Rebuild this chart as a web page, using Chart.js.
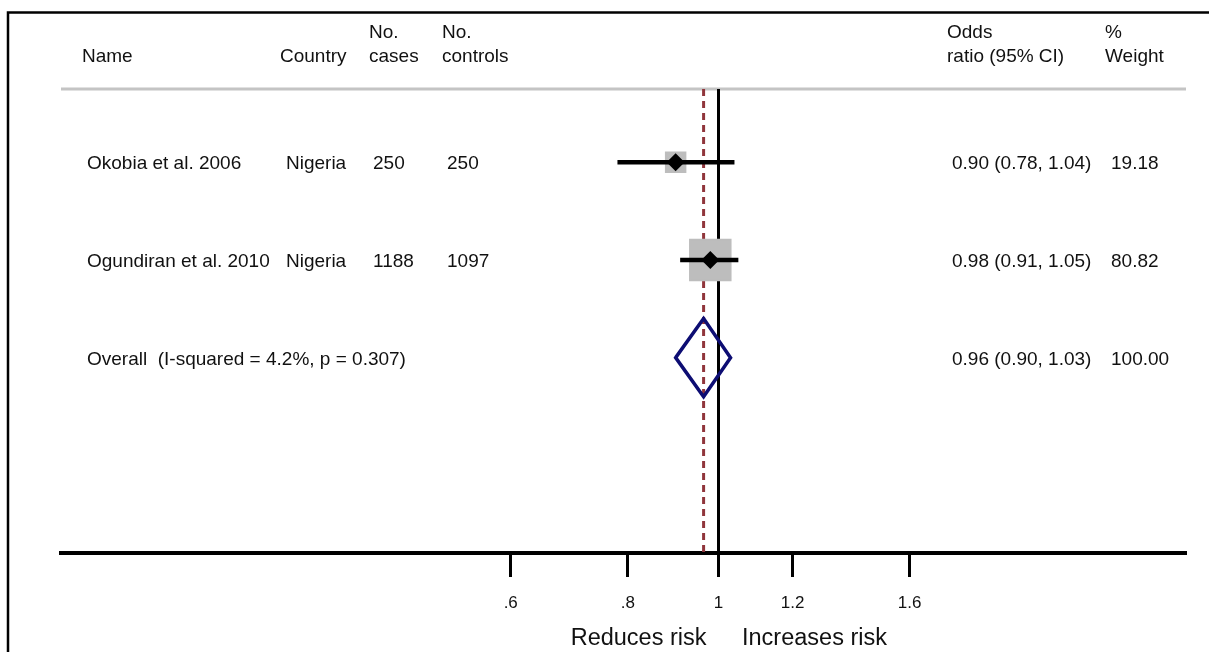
<!DOCTYPE html>
<html><head><meta charset="utf-8">
<script src="https://cdn.jsdelivr.net/npm/chart.js@4.4.1/dist/chart.umd.min.js"></script>
<style>html,body{margin:0;padding:0;background:#fff;overflow:hidden}canvas{display:block}</style>
</head><body>
<canvas id="c" width="1209" height="652"></canvas>
<script>
// ---- data ----
const studyNames = ['Okobia et al. 2006', 'Ogundiran et al. 2010'];
const countries = ['Nigeria', 'Nigeria'];
const noCases = [250, 1188];
const noControls = [250, 1097];
const oddsRatios = [0.90, 0.98];
const ciLower = [0.78, 0.91];
const ciUpper = [1.04, 1.05];
const weights = [19.18, 80.82];
const overallLabel = 'Overall  (I-squared = 4.2%, p = 0.307)';
const overallOR = 0.964;
const overallLower = 0.90;
const overallUpper = 1.03;
const overallWeight = 100.00;
const tickValues = [0.6, 0.8, 1, 1.2, 1.6];
const tickLabels = ['.6', '.8', '1', '1.2', '1.6'];
const nullValue = 1;

// ---- layout constants ----
const FONT = '"Liberation Sans", Arial, Helvetica, sans-serif';
Chart.defaults.font.family = FONT;
Chart.defaults.font.size = 17;
const sepY = 0.25;       // header separator row position
const axisY = 5;         // bottom of plot (x axis)
const overallRow = studyNames.length + 1;
const diamondHalf = 0.4;

const boxRadius = weights.map(w => (4.56 * Math.sqrt(w)) / (2 * Math.SQRT1_2));

const datasets = [];
// reference lines
datasets.push({
  data: [{x: nullValue, y: sepY}, {x: nullValue, y: axisY}],
  showLine: true, borderColor: '#000', borderWidth: 3, pointRadius: 0, order: 6
});
datasets.push({
  data: [{x: overallOR, y: sepY}, {x: overallOR, y: axisY}],
  showLine: true, borderColor: '#90353b', borderWidth: 3, borderDash: [7, 5], pointRadius: 0, order: 6
});
// weight boxes
datasets.push({
  data: oddsRatios.map((v, i) => ({x: v, y: i + 1})),
  showLine: false, pointStyle: 'rect', pointRadius: boxRadius,
  backgroundColor: '#bdbdbd', borderColor: '#bdbdbd', borderWidth: 1.5, order: 4
});
// CI lines
studyNames.forEach((n, i) => {
  datasets.push({
    data: [{x: ciLower[i], y: i + 1}, {x: ciUpper[i], y: i + 1}],
    showLine: true, borderColor: '#000', borderWidth: 4.5, pointRadius: 0, borderCapStyle: 'butt', order: 3
  });
});
// point estimates
datasets.push({
  data: oddsRatios.map((v, i) => ({x: v, y: i + 1})),
  showLine: false, pointStyle: 'rectRot', pointRadius: 9,
  backgroundColor: '#000', borderColor: '#000', borderWidth: 0, order: 2
});
// overall diamond
datasets.push({
  data: [
    {x: overallLower, y: overallRow},
    {x: overallOR, y: overallRow - diamondHalf},
    {x: overallUpper, y: overallRow},
    {x: overallOR, y: overallRow + diamondHalf},
    {x: overallLower, y: overallRow},
    {x: overallOR, y: overallRow - diamondHalf}
  ],
  showLine: true, borderColor: '#0d0d73', borderWidth: 3.5, pointRadius: 0,
  borderJoinStyle: 'miter', fill: false, order: 1
});

const framePlugin = {
  id: 'frame',
  beforeDraw(chart) {
    const ctx = chart.ctx;
    ctx.save();
    ctx.fillStyle = '#fff';
    ctx.fillRect(0, 0, chart.width, chart.height);
    ctx.strokeStyle = '#000';
    ctx.lineWidth = 2.5;
    ctx.beginPath();
    ctx.moveTo(8, chart.height);
    ctx.lineTo(8, 12.5);
    ctx.lineTo(chart.width, 12.5);
    ctx.stroke();
    // header separator
    const ca = chart.chartArea;
    const ys = chart.scales.y.getPixelForValue(sepY);
    ctx.strokeStyle = '#c4c4c4';
    ctx.lineWidth = 3;
    ctx.beginPath();
    ctx.moveTo(ca.left, ys);
    ctx.lineTo(ca.right, ys);
    ctx.stroke();
    ctx.restore();
  },
  afterDraw(chart) {
    const ctx = chart.ctx;
    const ys = chart.scales.y, xs = chart.scales.x;
    ctx.save();
    ctx.fillStyle = '#111';
    ctx.textBaseline = 'alphabetic';
    ctx.textAlign = 'left';
    ctx.font = '19px ' + FONT;
    // header
    const h1 = 38, h2 = 62;
    ctx.fillText('Name', 82, h2);
    ctx.fillText('Country', 280, h2);
    ctx.fillText('No.', 369, h1); ctx.fillText('cases', 369, h2);
    ctx.fillText('No.', 442, h1); ctx.fillText('controls', 442, h2);
    ctx.fillText('Odds', 947, h1); ctx.fillText('ratio (95% CI)', 947, h2);
    ctx.fillText('%', 1105, h1); ctx.fillText('Weight', 1105, h2);
    // rows
    studyNames.forEach((n, i) => {
      const y = ys.getPixelForValue(i + 1) + 7;
      ctx.fillText(n, 87, y);
      ctx.fillText(countries[i], 286, y);
      ctx.fillText(String(noCases[i]), 373, y);
      ctx.fillText(String(noControls[i]), 447, y);
      ctx.fillText(oddsRatios[i].toFixed(2) + ' (' + ciLower[i].toFixed(2) + ', ' + ciUpper[i].toFixed(2) + ')', 952, y);
      ctx.fillText(weights[i].toFixed(2), 1111, y);
    });
    const yo = ys.getPixelForValue(overallRow) + 7;
    ctx.fillText(overallLabel, 87, yo);
    ctx.fillText(overallOR.toFixed(2) + ' (' + overallLower.toFixed(2) + ', ' + overallUpper.toFixed(2) + ')', 952, yo);
    ctx.fillText(overallWeight.toFixed(2), 1111, yo);
    // direction labels
    const x1 = xs.getPixelForValue(nullValue);
    ctx.font = '23.5px ' + FONT;
    ctx.textAlign = 'right';
    ctx.fillText('Reduces risk', x1 - 12, 645);
    ctx.textAlign = 'left';
    ctx.fillText('Increases risk', x1 + 23.5, 645);
    ctx.restore();
  }
};

new Chart(document.getElementById('c'), {
  type: 'scatter',
  data: {datasets},
  options: {
    responsive: false,
    animation: false,
    devicePixelRatio: 1,
    events: [],
    layout: {autoPadding: false, padding: {left: 61, right: 23, top: 15.75, bottom: 0}},
    plugins: {legend: {display: false}, tooltip: {enabled: false}},
    scales: {
      x: {
        type: 'logarithmic',
        position: 'bottom',
        min: 0.1986,
        max: 3.156,
        bounds: 'data',
        afterBuildTicks(scale) { scale.ticks = tickValues.map(v => ({value: v})); },
        afterFit(scale) { scale.height = 99; },
        border: {display: true, color: '#000', width: 4},
        grid: {drawOnChartArea: false, drawTicks: true, tickLength: 24, tickWidth: 3, tickColor: '#000'},
        ticks: {
          autoSkip: false, maxRotation: 0, padding: 16, color: '#111',
          font: {family: FONT, size: 17},
          major: {enabled: false},
          callback(value) {
            const k = tickValues.findIndex(t => Math.abs(t - value) < 1e-9);
            return k >= 0 ? tickLabels[k] : '';
          }
        }
      },
      y: {
        type: 'linear', display: false, reverse: true, min: -0.5, max: axisY
      }
    }
  },
  plugins: [framePlugin]
});
</script>
</body></html>
